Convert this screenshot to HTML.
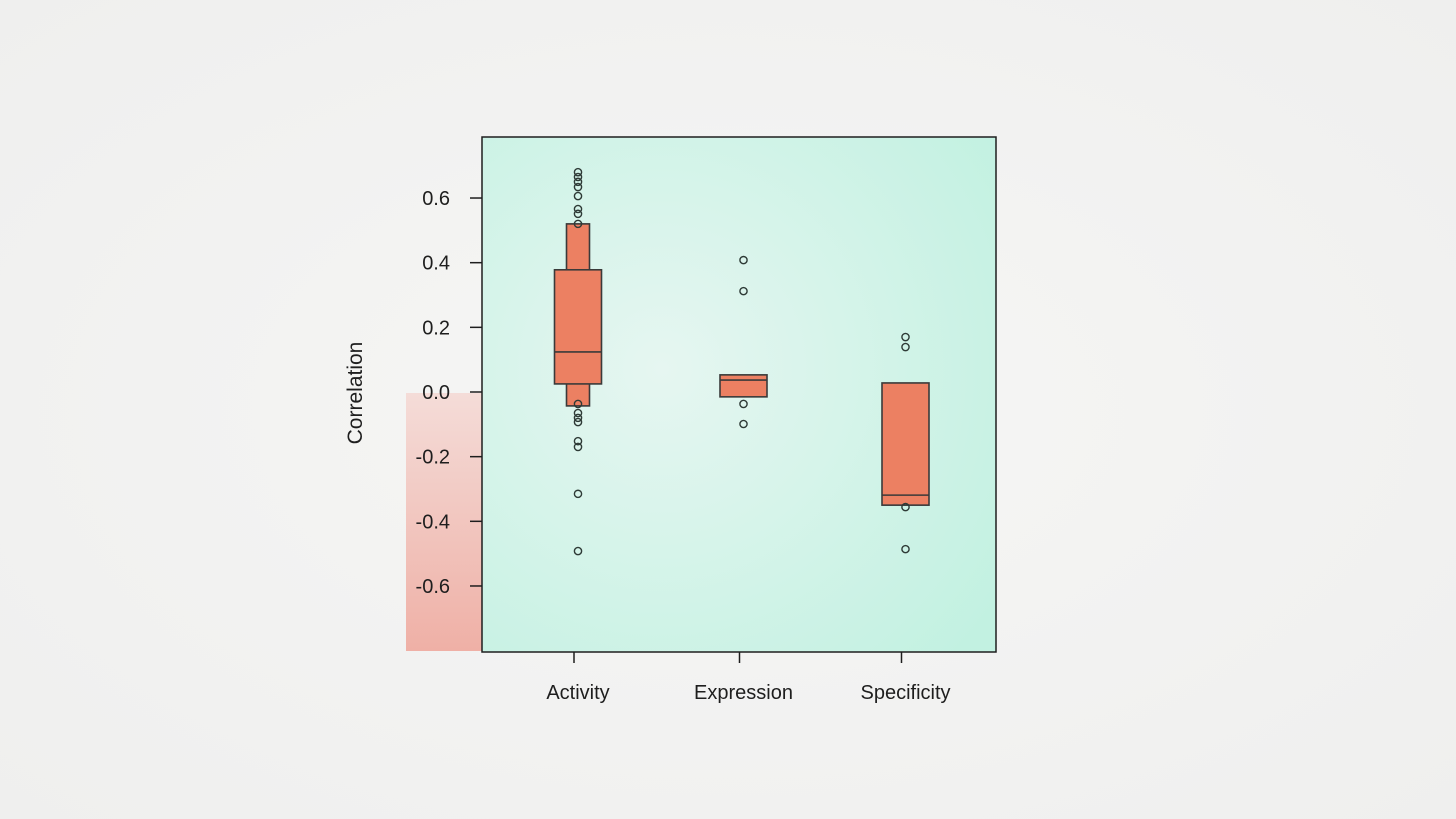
<!DOCTYPE html>
<html><head><meta charset="utf-8">
<style>
html,body{margin:0;padding:0;background:#f2f2f1;}
svg{display:block;font-family:"Liberation Sans",sans-serif;}
</style></head>
<body>
<svg id="chart" width="1456" height="819" viewBox="0 0 1456 819">
<defs>
<radialGradient id="plotbg" cx="0.35" cy="0.45" r="0.8">
<stop offset="0" stop-color="#e6f6f1"/>
<stop offset="1" stop-color="#c2f1e1"/>
</radialGradient>
<linearGradient id="negbg" x1="0" y1="0" x2="0" y2="1">
<stop offset="0" stop-color="#f4dcd8"/>
<stop offset="1" stop-color="#efb0a6"/>
</linearGradient>
<radialGradient id="pagebg" cx="0.5" cy="0.5" r="0.7">
<stop offset="0" stop-color="#f6f6f5"/>
<stop offset="1" stop-color="#efefee"/>
</radialGradient>
</defs>
<rect x="0" y="0" width="1456" height="819" fill="url(#pagebg)"/>
<rect x="406" y="393" width="76" height="258" fill="url(#negbg)"/>
<rect x="482" y="137" width="514" height="515" fill="url(#plotbg)" stroke="#1e1e1e" stroke-width="1.5"/>
<g id="yaxis"></g>
<g id="xaxis"></g>
<g id="marks"></g>
<text x="362" y="393" transform="rotate(-90 362 393)" text-anchor="middle" font-size="21" fill="#1e1e1e">Correlation</text>
</svg>
<script>
const categories = ["Activity", "Expression", "Specificity"];
const yTicks = [0.6, 0.4, 0.2, 0.0, -0.2, -0.4, -0.6];
const yTickLabels = ["0.6", "0.4", "0.2", "0.0", "-0.2", "-0.4", "-0.6"];
// letter-value boxes per category, from innermost (widest) outward: [low, high]
const activityBoxes = [[0.025, 0.378], [-0.043, 0.52]];
const expressionBoxes = [[-0.015, 0.053]];
const specificityBoxes = [[-0.350, 0.028]];
const medians = [0.124, 0.037, -0.319];
const activityOutliers = [0.680, 0.665, 0.650, 0.634, 0.606, 0.566, 0.551, 0.520, -0.037, -0.065, -0.080, -0.093, -0.152, -0.170, -0.315, -0.492];
const expressionOutliers = [0.408, 0.312, -0.037, -0.099];
const specificityOutliers = [0.170, 0.139, -0.356, -0.486];

const boxes = [activityBoxes, expressionBoxes, specificityBoxes];
const outliers = [activityOutliers, expressionOutliers, specificityOutliers];
const NS = "http://www.w3.org/2000/svg";
function y(v){ return 392 - v * 323.3; }
function x(i){ return [578, 743.5, 905.5][i]; }
function mk(tag, attrs, parent){
  const e = document.createElementNS(NS, tag);
  for (const k in attrs) e.setAttribute(k, attrs[k]);
  parent.appendChild(e); return e;
}
const ya = document.getElementById("yaxis");
yTicks.forEach((t, i) => {
  const l = mk("line", {x1: 470, x2: 482, y1: y(t), y2: y(t), stroke: "#1e1e1e", "stroke-width": 1.5}, ya);
  
  
  const tx = mk("text", {x: 450, y: y(t) + 7, "text-anchor": "end", "font-size": 20, fill: "#1e1e1e"}, ya);
  tx.textContent = yTickLabels[i];
  
  
});
const xa = document.getElementById("xaxis");
categories.forEach((c, i) => {
  const tk = x(i) - 4;
  const l = mk("line", {x1: tk, x2: tk, y1: 652, y2: 663, stroke: "#1e1e1e", "stroke-width": 1.5}, xa);
  
  
  const tx = mk("text", {x: x(i), y: 699, "text-anchor": "middle", "font-size": 20, fill: "#1e1e1e"}, xa);
  tx.textContent = c;
  
  
});
const mg = document.getElementById("marks");
boxes.forEach((bs, i) => {
  const n = bs.length;
  for (let k = n - 1; k >= 0; k--) {
    const w = 48 - 12 * (n - 1 - (n - 1 - k)) * 1 - (k === 0 ? 0 : 0);
    const half = (k === 0 ? 24 : 24 - 12 * k) - 0.5;
    const r = mk("rect", {x: x(i) - half, y: y(bs[k][1]), width: half * 2, height: y(bs[k][0]) - y(bs[k][1]), fill: "#ec8062", stroke: "#3a3a3a", "stroke-width": 1.6}, mg);
    
    
  }
  const m = mk("line", {x1: x(i) - 23.5, x2: x(i) + 23.5, y1: y(medians[i]), y2: y(medians[i]), stroke: "#3a3a3a", "stroke-width": 1.6}, mg);
  
  
  outliers[i].forEach(v => {
    const c = mk("circle", {cx: x(i), cy: y(v), r: 3.6, fill: "none", stroke: "#2e3a36", "stroke-width": 1.4}, mg);
    
    
  });
});
</script>
</body></html>
